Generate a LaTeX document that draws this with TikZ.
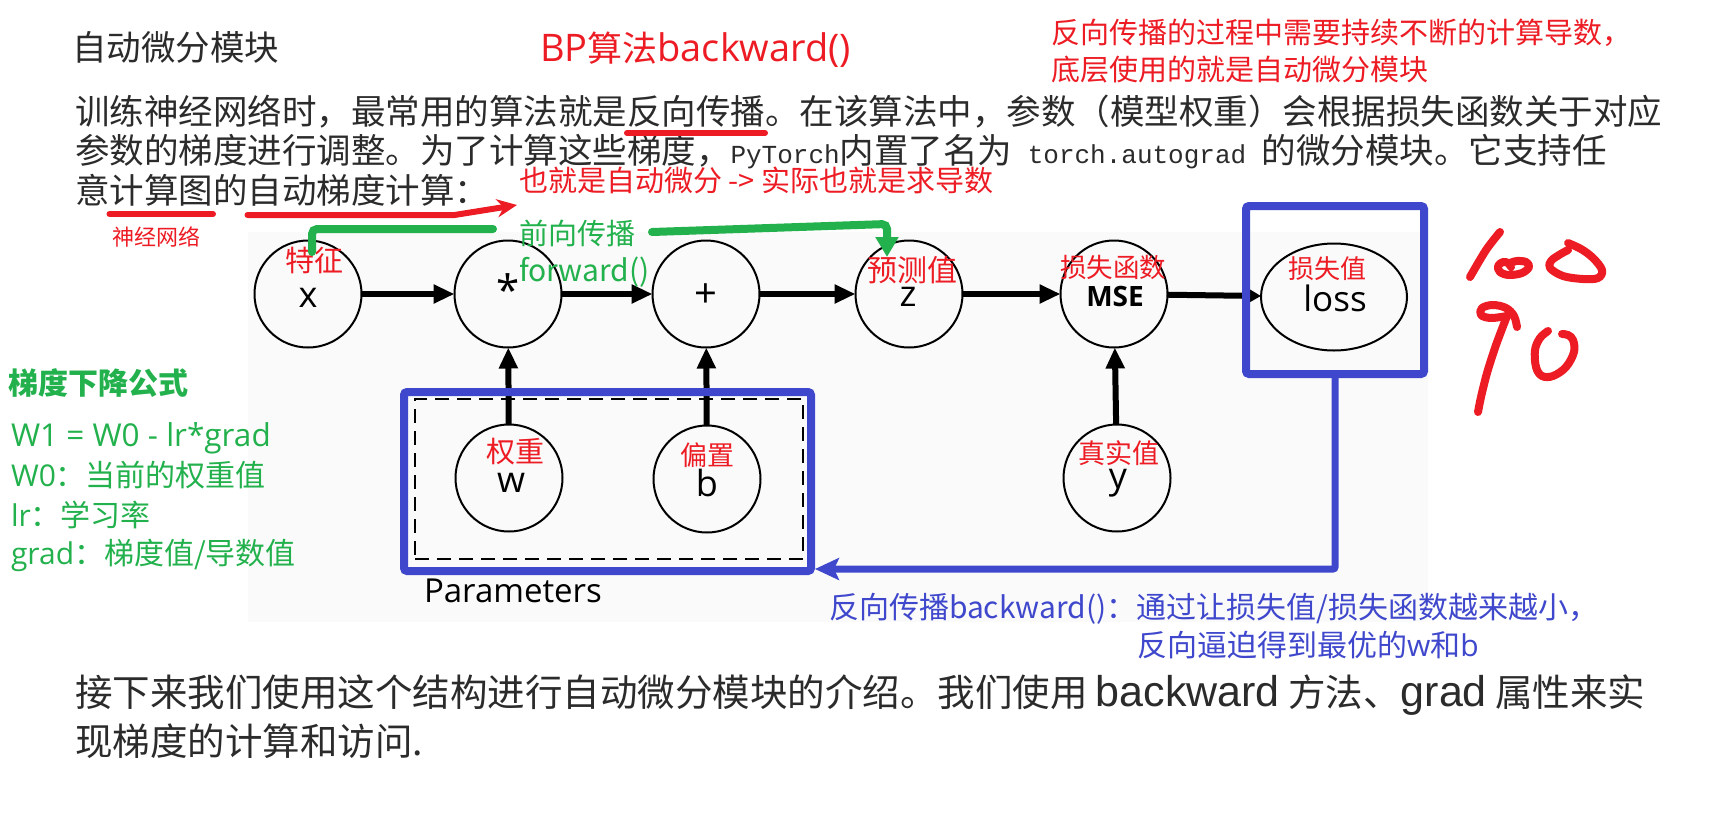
\documentclass[tikz,border=0pt]{standalone}
\usepackage{fontspec}
\setmainfont{Noto Sans CJK SC}
\newfontfamily\osans{Open Sans}
\newfontfamily\lsans{Liberation Sans}
\newfontfamily\lmono{Liberation Mono}
\usetikzlibrary{arrows.meta,shapes.geometric}
\definecolor{pred}{HTML}{ED1C24}
\definecolor{pgreen}{HTML}{22B14C}
\definecolor{pblue}{HTML}{3F48CC}
\definecolor{ptext}{HTML}{2B2B2B}
\definecolor{pbg}{HTML}{FAFAFA}
\newcommand\fs[1]{\fontsize{#1}{#1}\selectfont}
\begin{document}
\begin{tikzpicture}[x=1pt,y=-1pt,
  every node/.style={inner sep=0pt, outer sep=0pt},
  gnode/.style={circle, draw=black, line width=2pt, minimum size=107pt},
  lett/.style={font=\osans\fs{36}},
  rlab/.style={text=pred},
  para/.style={anchor=base west, text=ptext, font=\fs{34.5}},
  flow/.style={line width=6pt, -{Triangle[length=21pt,width=18pt]}},
  bbox/.style={draw=pblue, line width=8pt, rounded corners=3pt},
  bconn/.style={draw=pblue, line width=7pt, rounded corners=2pt, -{Stealth[length=24pt,width=22pt,inset=5pt]}},
  gline/.style={draw=pgreen, line width=8pt, line cap=round, rounded corners=5pt},
  rline/.style={draw=pred, line width=6pt, line cap=round},
  hand/.style={draw=pred, line width=8pt, line cap=round, line join=round}
]
\useasboundingbox (0,0) rectangle (1734,819);
\fill[white] (0,0) rectangle (1734,819);
\fill[pbg] (248,232) rectangle (1428,622);

% ---- top texts ----
\node[anchor=west, text=ptext, font=\fs{34.5}] (title) at (72,47) {自动微分模块};
\node[anchor=west, text=pred, font=\fs{35}] (bp) at (540,50) {{\osans\fs{38}BP}算法{\osans\fs{38}backward()}};
\node[anchor=west, text=pred, font=\fs{29}] (note1) at (1051,33) {反向传播的过程中需要持续不断的计算导数，};
\node[anchor=west, text=pred, font=\fs{29}] (note2) at (1051,70) {底层使用的就是自动微分模块};

\node[para] (p1a) at (75,124) {训练神经网络时，最常用的算法就是};
\node[para] (fx) at (p1a.base east) {反向传播};
\node[para] (p1b) at (fx.base east) {。在该算法中，参数（模型权重）会根据损失函数关于对应};
\node[para] (p2) at (75,163) {参数的梯度进行调整。为了计算这些梯度，{\lmono\fs{26}PyTorch}内置了名为{\lmono\fs{26} torch.autograd }的微分模块。它支持任};
\node[para] (p3a) at (75,203) {意};
\node[para] (jst) at (p3a.base east) {计算图};
\node[para] (p3b) at (jst.base east) {的};
\node[para] (zd) at (p3b.base east) {自动梯度计算};
\node[para] (p3c) at (zd.base east) {：};

\node[anchor=west, text=pred, font=\fs{29}] (ad) at (519,180) {也就是自动微分 -> 实际也就是求导数};
\node[anchor=west, text=pred, font=\fs{22}] (sjwl) at (112,237) {神经网络};

\draw[rline] ([yshift=-9pt]fx.base west) -- ([yshift=-9pt]fx.base east);
\draw[rline] ([yshift=-11pt]jst.base west) -- ([yshift=-11pt]jst.base east);
\coordinate (rtip) at (517,205);
\draw[rline, line join=round, -{Stealth[length=20pt,width=18pt]}] ([yshift=-12pt]zd.base west) -- ([yshift=-12pt]zd.base east) -- (rtip);

% ---- graph ----
\node[gnode] (nx) at (308,294) {};
\node[gnode] (nmul) at (508,294) {};
\node[gnode] (nadd) at (706,294) {};
\node[gnode] (nz) at (909,294) {};
\node[gnode] (nmse) at (1114,294) {};
\node[ellipse, draw=black, line width=2pt, minimum width=146pt, minimum height=107pt] (nloss) at (1334,297) {};
\node[gnode] (nw) at (509,478) {};
\node[gnode] (nb) at (707,479) {};
\node[gnode] (ny) at (1117,478) {};

\node[lett] (tx) at (308,298) {x};
\node[lett, font=\osans\fs{42}] (tmul) at (508,290) {*};
\node[lett, font=\osans\fs{40}] (tadd) at (706,296) {+};
\node[lett] (tz) at (908,297) {z};
\node[font=\osans\bfseries\fs{28}] (tmse) at (1115,296) {MSE};
\node[font=\osans\fs{35}] (tloss) at (1335,298) {loss};
\node[lett] (tw) at (511,483) {w};
\node[lett] (tb) at (707,483) {b};
\node[lett] (ty) at (1118,483) {y};

\node[rlab, font=\fs{29}] (ltz) at (314,260) {特征};
\node[rlab, font=\fs{30}] (lyc) at (912,270) {预测值};
\node[rlab, font=\fs{26.5}] (lss) at (1113,267) {损失函数};
\node[rlab, font=\fs{26}] (lsz) at (1327,269) {损失值};
\node[rlab, font=\fs{29}] (lqz) at (515,452) {权重};
\node[rlab, font=\fs{27}] (lpz) at (707,455) {偏置};
\node[rlab, font=\fs{27}] (lzs) at (1119,453) {真实值};

\draw[flow] (nx) -- (nmul);
\draw[flow] (nmul) -- (nadd);
\draw[flow] (nadd) -- (nz);
\draw[flow] (nz) -- (nmse);
\draw[line width=6pt, -{Triangle[length=13pt,width=14pt]}] (nmse) -- (nloss);
\draw[flow] (nw) -- (nmul);
\draw[flow] (nb) -- (nadd);
\draw[flow] (ny) -- (nmse);

% boxes
\node[draw=black, line width=2.5pt, dash pattern=on 14pt off 8pt, minimum width=388pt, minimum height=160pt] (dbox) at (609,479) {};
\node[bbox, minimum width=407pt, minimum height=179pt] (pbox) at (607.5,481.5) {};
\node[bbox, minimum width=178pt, minimum height=168pt] (lossbox) at (1335,290) {};
\node[anchor=base west, font=\osans\fs{33}] (params) at (424,602) {Parameters};

\draw[bconn] (lossbox.south) |- ([xshift=4pt,yshift=2pt]pbox.south east);

% green forward
\coordinate (g0) at (312,252);
\coordinate (g1) at (493,229);
\coordinate (g2) at (652,232);
\coordinate (g3) at (887,224);
\coordinate (g4) at (887,257);
\draw[gline] (g0) |- (g1);
\draw[gline, -{Triangle[length=20pt,width=22pt]}] (g2) -- (g3) -- (g4);
\node[anchor=west, text=pgreen, font=\fs{29}] (fwd1) at (519,233) {前向传播};
\node[anchor=west, text=pgreen, font=\fs{30}] (fwd2) at (519,272) {forward()};

% green formula
\node[anchor=west, text=pgreen, font=\fs{30}\bfseries] (gd) at (9,383) {梯度下降公式};
\node[anchor=base west, text=pgreen, font=\osans\fs{31.5}] (f1) at (11,446) {W1 = W0 - lr*grad};
\node[anchor=base west, text=pgreen, font=\fs{30}] (f2) at (11,486) {{\osans W0}：当前的权重值};
\node[anchor=base west, text=pgreen, font=\fs{30}] (f3) at (11,526) {{\osans lr}：学习率};
\node[anchor=base west, text=pgreen, font=\fs{30}] (f4) at (11,564) {{\osans grad}：梯度值/导数值};

% blue text
\node[anchor=base west, text=pblue, font=\fs{30}] (bl1) at (829,618) {反向传播backward()：通过让损失值/损失函数越来越小，};
\node[anchor=base west, text=pblue, font=\fs{30}] (bl2) at (1137,656) {反向逼迫得到最优的{\osans w}和{\osans b}};

% bottom paragraph
\node[anchor=base west, text=ptext, font=\fs{37.5}] (q1) at (75,706) {接下来我们使用这个结构进行自动微分模块的介绍。我们使用 {\lsans\fs{43}backward} 方法、{\lsans\fs{43}grad} 属性来实};
\node[anchor=base west, text=ptext, font=\fs{37.5}] (q2) at (75,755) {现梯度的计算和访问.};

% handwriting 100 / 90
\draw[hand] plot[smooth] coordinates {(1500,232) (1486,250) (1470,277)};
\draw[hand] plot[smooth, tension=0.6] coordinates {(1511,267) (1508,263) (1503,262) (1498,266) (1500,272) (1509,275) (1522,273) (1529,267) (1526,262) (1517,261) (1510,263)};
\draw[hand] plot[smooth, tension=0.6] coordinates {(1568,243) (1581,249) (1593,258) (1602,270) (1598,278) (1583,279) (1563,276) (1550,268) (1551,261) (1559,255) (1568,250)};
\draw[hand] plot[smooth, tension=0.6] coordinates {(1517,327) (1514,316) (1506,308) (1493,305) (1482,308) (1481,315) (1491,318) (1507,316)};
\draw[hand] plot[smooth] coordinates {(1507,316) (1496,345) (1487,373) (1481,397) (1478,412)};
\draw[hand] plot[smooth, tension=0.6] coordinates {(1548,331) (1540,338) (1535,350) (1536,367) (1542,376) (1553,376) (1566,367) (1574,352) (1573,340) (1568,335) (1562,334)};
\end{tikzpicture}
\end{document}
